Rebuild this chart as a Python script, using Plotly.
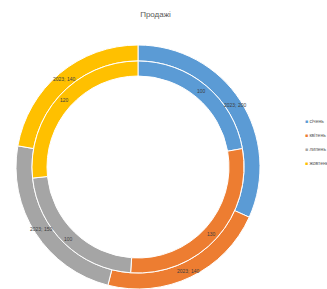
import math
import plotly.graph_objects as go

title = "Продажі"
months = ["січень", "квітень", "липень", "жовтень"]
outer_year = "2023"
sales_2023 = [200, 140, 150, 140]
sales_prev = [100, 130, 100, 120]
colors = ["#5B9BD5", "#ED7D31", "#A5A5A5", "#FFC000"]

W, H = 327, 289
cx, cy = 138, 122  # centre in px from left / bottom
r_out, r_mid, r_in = 122, 106, 91

fig = go.Figure()
fig.add_trace(go.Pie(
    labels=months, values=sales_2023, sort=False, direction="clockwise", rotation=0,
    hole=r_mid / r_out,
    domain=dict(x=[(cx - r_out) / W, (cx + r_out) / W], y=[(cy - r_out) / H, (cy + r_out) / H]),
    marker=dict(colors=colors, line=dict(color="white", width=1)),
    textinfo="none", showlegend=False, hoverinfo="label+value",
))
fig.add_trace(go.Pie(
    labels=months, values=sales_prev, sort=False, direction="clockwise", rotation=0,
    hole=r_in / r_mid,
    domain=dict(x=[(cx - r_mid) / W, (cx + r_mid) / W], y=[(cy - r_mid) / H, (cy + r_mid) / H]),
    marker=dict(colors=colors, line=dict(color="white", width=1)),
    textinfo="none", showlegend=False, hoverinfo="label+value",
))


def ring_labels(values, radius, fmt):
    total = sum(values)
    cum = 0
    for v in values:
        ang = math.radians((cum + v / 2) / total * 360)
        cum += v
        fig.add_annotation(
            x=(cx + radius * math.sin(ang)) / W, y=(cy + radius * math.cos(ang)) / H,
            xref="paper", yref="paper", xanchor="center", yanchor="middle",
            showarrow=False, text=fmt(v),
            font=dict(size=5, color="#404040", family="Liberation Sans"),
        )


ring_labels(sales_2023, (r_out + r_mid) / 2 + 1, lambda v: f"{outer_year}; {v}")
ring_labels(sales_prev, (r_mid + r_in) / 2 + 1, lambda v: f"{v}")

# legend drawn as annotations
for i, (m, c) in enumerate(zip(months, colors)):
    fig.add_annotation(
        x=303 / W, y=(H - (121 + 14 * i)) / H, xref="paper", yref="paper",
        xanchor="left", yanchor="middle", showarrow=False,
        text=f'<span style="color:{c}">■</span> {m}',
        font=dict(size=5, color="#595959", family="Liberation Sans"),
    )

fig.update_layout(
    width=W, height=H,
    margin=dict(l=0, r=0, t=0, b=0),
    paper_bgcolor="white", plot_bgcolor="white",
    title=dict(text=title, x=155.5 / W, xanchor="center", y=(H - 14) / H, yanchor="middle",
               font=dict(size=8, color="#595959", family="Liberation Sans")),
)
fig.write_html("out.html", config={"displayModeBar": False},
               post_script="document.body.style.margin='0';document.body.style.overflow='hidden';")
